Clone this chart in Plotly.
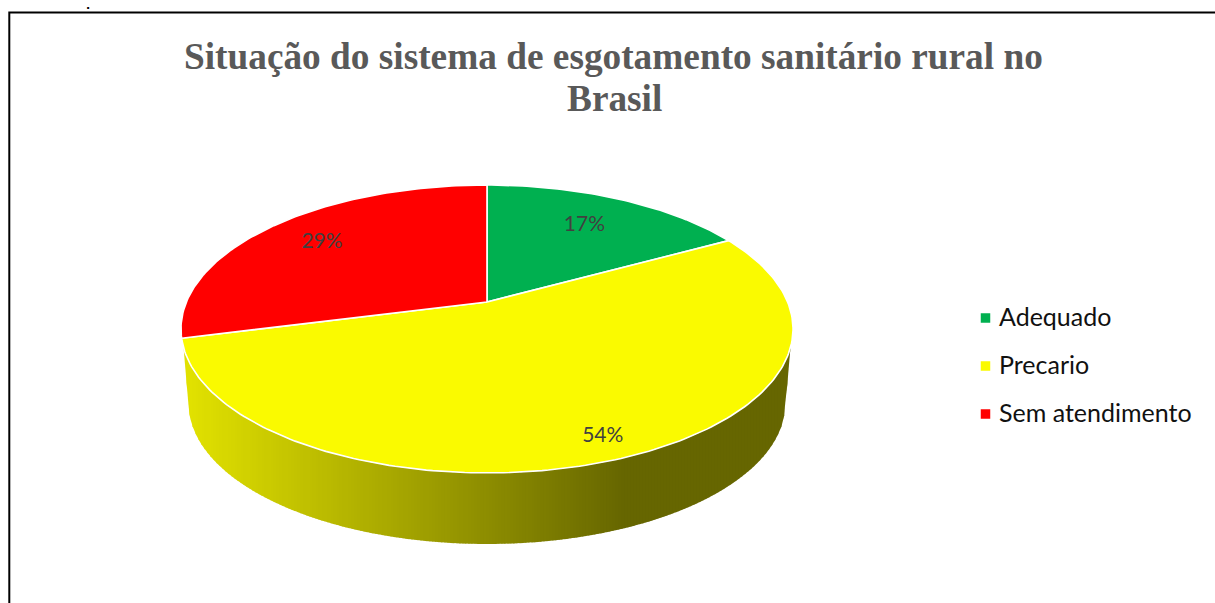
import math
import numpy as np
import plotly.graph_objects as go

# Slice data
categories = ["Adequado", "Precario", "Sem atendimento"]
percentages = [17, 54, 29]
slice_colors = ["#00B050", "#FAFA00", "#FF0000"]
title_lines = ["Situação do sistema de esgotamento sanitário rural no", "Brasil"]

# Radial placement of each percentage label, as a share of the pie radius
label_radii = [0.71, 0.885, 0.755]

WIDTH, HEIGHT = 1215, 603

# Perspective projection of the tilted disc
CX, APEX_Y = 487.0, 302.0
RX, RY, TILT = 300.6, 138.9, 0.1875
DEPTH_SCALE, BASE_APEX_Y = 0.975, 377.3


def project(theta_deg, r=1.0, scale=1.0, apex_y=APEX_Y):
    """Screen position of a point on the disc; theta runs clockwise from 12 o'clock."""
    t = math.radians(theta_deg)
    u, v = r * math.sin(t), r * math.cos(t)
    w = 1 + TILT * v
    return CX + scale * RX * u / w, apex_y - scale * RY * v / w


def side_color(x):
    """Horizontal shading of the pie wall, from lit yellow to dark olive."""
    level = max(102.0, min(225.0, 225.0 - (x - 190.0) * 0.283))
    return f"rgb({level:.0f},{level:.0f},0)"


fig = go.Figure()

# Pie wall: vertical bands between the top rim and the base rim, shaded by x
shares = [p / sum(percentages) * 360 for p in percentages]
TOP_LEFT, TOP_RIGHT = 252.0, 108.0
BASE_LEFT, BASE_RIGHT = 257.0, 103.0
rim = [project(a) for a in np.linspace(TOP_LEFT, TOP_RIGHT, 241)]
base = [project(a, scale=DEPTH_SCALE, apex_y=BASE_APEX_Y) for a in np.linspace(BASE_LEFT, BASE_RIGHT, 241)]
base = [rim[0]] + base + [rim[-1]]
rim_x, rim_y = zip(*rim)
base_x, base_y = zip(*base)
BAND = 3.0
band_edges = np.arange(rim_x[0], rim_x[-1], BAND)
for left in band_edges:
    right = min(left + BAND + 0.8, rim_x[-1])
    xs = np.linspace(left, right, 5)
    top = np.interp(xs, rim_x, rim_y)
    bottom = np.interp(xs, base_x, base_y)
    px = list(xs) + list(xs[::-1]) + [xs[0]]
    py = list(top) + list(bottom[::-1]) + [top[0]]
    color = side_color(left + BAND / 2)
    fig.add_trace(go.Scatter(
        x=px, y=py, mode="lines", fill="toself",
        fillcolor=color, line=dict(width=0),
        hoverinfo="skip", showlegend=False,
    ))

# Top face of the pie
start = 0.0
for name, share, color in zip(categories, shares, slice_colors):
    steps = max(2, int(share))
    pts = [project(start + share * k / steps) for k in range(steps + 1)]
    apex = project(0, r=0.0)
    xs = [apex[0]] + [p[0] for p in pts] + [apex[0]]
    ys = [apex[1]] + [p[1] for p in pts] + [apex[1]]
    fig.add_trace(go.Scatter(
        x=xs, y=ys, mode="lines", fill="toself", fillcolor=color,
        line=dict(color="white", width=1.6), name=name,
        hoverinfo="name", showlegend=False,
    ))
    start += share

# Percentage labels
start = 0.0
lx, ly, lt = [], [], []
for pct, share, r in zip(percentages, shares, label_radii):
    x, y = project(start + share / 2, r=r)
    lx.append(x)
    ly.append(y)
    lt.append(f"{pct}%")
    start += share
fig.add_trace(go.Scatter(
    x=lx, y=ly, mode="text", text=lt, textposition="middle center",
    textfont=dict(family="Lato", size=21, color="#404040"),
    hoverinfo="skip", showlegend=False,
))

# Legend column: square keys with their names alongside
LEGEND_KEY_X, LEGEND_TEXT_X = 985.5, 999.0
LEGEND_ROWS = [318, 366, 414]
fig.add_trace(go.Scatter(
    x=[LEGEND_KEY_X] * 3, y=LEGEND_ROWS, mode="markers",
    marker=dict(symbol="square", size=9.5, color=slice_colors, line=dict(width=0)),
    hoverinfo="skip", showlegend=False,
))
fig.add_trace(go.Scatter(
    x=[LEGEND_TEXT_X] * 3, y=[row + 2 for row in LEGEND_ROWS], mode="text", text=categories,
    textposition="middle right",
    textfont=dict(family="Lato", size=25, color="#111111"),
    hoverinfo="skip", showlegend=False,
))

fig.update_layout(
    width=WIDTH, height=HEIGHT, autosize=False,
    margin=dict(l=0, r=0, t=0, b=0),
    paper_bgcolor="white", plot_bgcolor="white",
    xaxis=dict(range=[0, WIDTH], visible=False, fixedrange=True),
    yaxis=dict(range=[HEIGHT, 0], visible=False, fixedrange=True),
    showlegend=False,
    annotations=[
        dict(x=613.5, y=56, xref="x", yref="y", showarrow=False,
             text=f"<b>{title_lines[0]}</b>",
             font=dict(family="Liberation Serif", size=37.3, color="#595959")),
        dict(x=614, y=98, xref="x", yref="y", showarrow=False,
             text=f"<b>{title_lines[1]}</b>",
             font=dict(family="Liberation Serif", size=37.3, color="#595959")),
        dict(x=88, y=0, yshift=3, xref="x", yref="y", yanchor="top", showarrow=False,
             text="<b>.</b>",
             font=dict(family="DejaVu Sans", size=11, color="black")),
    ],
    shapes=[
        dict(type="rect", xref="x", yref="y", x0=9.3, y0=12.5, x1=1240, y1=640,
             line=dict(color="black", width=2)),
    ],
)

fig.write_html("out.html", config={"displayModeBar": False})
